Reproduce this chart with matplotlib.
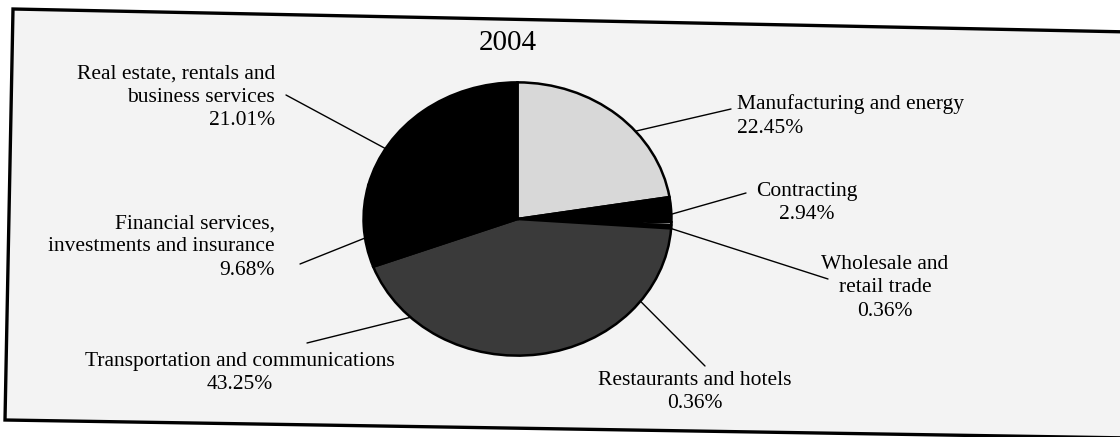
import numpy as np
import matplotlib.pyplot as plt
from matplotlib.patches import Polygon

W, H = 1120, 437

sectors = ["Manufacturing and energy", "Contracting", "Wholesale and\nretail trade",
           "Restaurants and hotels", "Transportation and communications",
           "Financial services,\ninvestments and insurance",
           "Real estate, rentals and\nbusiness services"]
shares = [22.45, 2.94, 0.36, 0.36, 43.25, 9.68, 21.01]
colors = ["#d8d8d8", "black", "white", "black", "#3a3a3a", "black", "black"]

# label layout (pixels from top-left) and where each leader touches the pie
label_xy = [(737, 116), (807, 203), (885, 288), (695, 392), (240, 373), (275, 247), (275, 97)]
label_ha = ["left", "center", "center", "center", "center", "right", "right"]
line_end = [(731, 109), (746, 193), (828, 279), (705, 366), (307, 343), (300, 264), (286, 95)]
anchor_deg = [50, 88, 94, 127, 224, 262, 301]   # clockwise from 12 o'clock

plt.rcParams['font.family'] = ['Liberation Serif', 'DejaVu Serif']

fig = plt.figure(figsize=(W / 100, H / 100), dpi=100)
fig.patch.set_facecolor("white")

# scanned frame, slightly tilted
frame = Polygon([(13 / W, 1 - 9 / H), (1.01, 1 - 32 / H), (1.01, 1 - 438 / H), (5 / W, 1 - 420 / H)],
                closed=True, transform=fig.transFigure, facecolor="#f3f3f3",
                edgecolor="black", lw=2.4, clip_on=False, zorder=-5)
fig.patches.append(frame)

# pie box: x 362..673, y 81..357 px
ax = fig.add_axes([362 / W, 1 - 357 / H, 311 / W, 276 / H])
wedges, _ = ax.pie(shares, colors=colors, startangle=90, counterclock=False, radius=1,
                   wedgeprops=dict(edgecolor="black", linewidth=1.8))
ax.set_aspect("auto")
ax.set_xlim(-1.01, 1.01)
ax.set_ylim(-1.01, 1.01)
ax.axis("off")

for name, val, (tx, ty), ha, (lx, ly), deg in zip(sectors, shares, label_xy, label_ha, line_end, anchor_deg):
    th = np.deg2rad(90 - deg)
    ax.annotate("", xy=(np.cos(th), np.sin(th)), xycoords="data",
                xytext=(lx, H - ly), textcoords="figure pixels",
                arrowprops=dict(arrowstyle="-", color="black", lw=1.0, shrinkA=0, shrinkB=0))
    fig.text(tx / W, 1 - ty / H, f"{name}\n{val:.2f}%", ha=ha, va="center",
             multialignment=ha, fontsize=15.5, linespacing=1.3)

fig.text(508 / W, 1 - 43 / H, "2004", ha="center", va="center", fontsize=21)

fig.savefig("out.png", dpi=100)
